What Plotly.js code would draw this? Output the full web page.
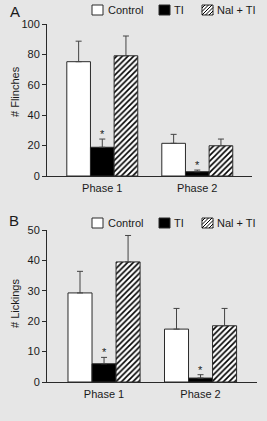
<!DOCTYPE html>
<html>
<head>
<meta charset="utf-8">
<script src="https://cdn.plot.ly/plotly-3.0.1.min.js"></script>
<style>html,body{margin:0;padding:0;background:#e6e6e6;}#chart{width:267px;height:421px;}</style>
</head>
<body>
<div id="chart"></div>
<script>
// ---- data ----
const phases = ['Phase 1', 'Phase 2'];
const seriesNames = ['Control', 'TI', 'Nal + TI'];

// Panel A: # Flinches
const flinchControl = [75.2, 21.5];
const flinchControlErr = [13.5, 5.9];
const flinchTI = [18.9, 2.8];
const flinchTIErr = [5.4, 1.1];
const flinchNal = [79.1, 19.9];
const flinchNalErr = [13.0, 4.4];

// Panel B: # Lickings
const lickControl = [29.3, 17.4];
const lickControlErr = [7.1, 6.8];
const lickTI = [6.0, 1.3];
const lickTIErr = [2.1, 1.1];
const lickNal = [39.5, 18.5];
const lickNalErr = [8.7, 5.7];

const yTitleA = '# Flinches';
const yTitleB = '# Lickings';
const panelLabels = ['A', 'B'];
const sigMark = '*';

// ---- layout geometry ----
const W = 267, H = 421, L = 47, R = 10, T = 24, B = 39;
const PW = W - L - R, PH = H - T - B;
const fx = px => (px - L) / PW;
const fy = py => (T + PH - py) / PH;
const FONT = 'Liberation Sans, Arial, Helvetica, sans-serif';
const TXT = '#1a1a1a';
const LINE = '#2a2a2a';

function errSpec(arr) {
  return {type: 'data', symmetric: false, array: arr, arrayminus: arr.map(() => 0),
          color: '#444', thickness: 1, width: 3};
}
const styles = [
  {color: '#ffffff', line: {color: LINE, width: 1}},
  {color: '#000000', line: {color: LINE, width: 1}},
  {color: '#ffffff', line: {color: LINE, width: 1},
   pattern: {shape: '/', size: 4, solidity: 0.4, fgcolor: '#000000', bgcolor: '#ffffff'}}
];

function mk(vals, errs, i, xa, ya) {
  return {type: 'bar', x: phases, y: vals, name: seriesNames[i], marker: styles[i],
          error_y: errSpec(errs), xaxis: xa, yaxis: ya, showlegend: false,
          hoverinfo: 'skip'};
}

const data = [
  mk(flinchControl, flinchControlErr, 0, 'x', 'y'),
  mk(flinchTI, flinchTIErr, 1, 'x', 'y'),
  mk(flinchNal, flinchNalErr, 2, 'x', 'y'),
  mk(lickControl, lickControlErr, 0, 'x2', 'y2'),
  mk(lickTI, lickTIErr, 1, 'x2', 'y2'),
  mk(lickNal, lickNalErr, 2, 'x2', 'y2')
];

const annotations = [];
const shapes = [];

// significance asterisks above TI bars
phases.forEach((p, k) => {
  annotations.push({xref: 'x', yref: 'y', x: p, y: flinchTI[k] + flinchTIErr[k], text: sigMark,
    showarrow: false, yanchor: 'bottom', font: {family: FONT, size: 11, color: TXT}, yshift: -3});
  annotations.push({xref: 'x2', yref: 'y2', x: p, y: lickTI[k] + lickTIErr[k], text: sigMark,
    showarrow: false, yanchor: 'bottom', font: {family: FONT, size: 11, color: TXT}, yshift: -3});
});

// panel letters
annotations.push({xref: 'paper', yref: 'paper', x: fx(8), y: fy(12), text: panelLabels[0], showarrow: false,
  xanchor: 'left', yanchor: 'middle', font: {family: FONT, size: 15, color: TXT}});
annotations.push({xref: 'paper', yref: 'paper', x: fx(7), y: fy(220), text: panelLabels[1], showarrow: false,
  xanchor: 'left', yanchor: 'middle', font: {family: FONT, size: 15, color: TXT}});

// y-axis titles
annotations.push({xref: 'paper', yref: 'paper', x: fx(15), y: fy(92), text: yTitleA, showarrow: false,
  textangle: -90, xanchor: 'center', yanchor: 'middle', font: {family: FONT, size: 11, color: TXT}});
annotations.push({xref: 'paper', yref: 'paper', x: fx(15), y: fy(304), text: yTitleB, showarrow: false,
  textangle: -90, xanchor: 'center', yanchor: 'middle', font: {family: FONT, size: 11, color: TXT}});

// manual legends
function legend(yc) {
  const boxes = [[92, 103], [159, 170], [202, 213]];
  const textX = [106, 172, 215];
  const y0 = yc - 5, y1 = yc + 5;
  boxes.forEach((b, i) => {
    shapes.push({type: 'rect', xref: 'paper', yref: 'paper', x0: fx(b[0]), x1: fx(b[1]), y0: fy(y1), y1: fy(y0),
      fillcolor: i === 1 ? '#000' : '#fff', line: {color: LINE, width: 1}});
    if (i === 2) {
      const w = b[1] - b[0], h = y1 - y0;
      let path = '';
      for (let c = 3; c < w + h; c += 3.5) {
        const ax = b[0] + Math.max(0, c - h), ay = y0 + Math.min(c, h);
        const bx = b[0] + Math.min(c, w), by = y0 + Math.max(0, c - w);
        path += 'M' + fx(ax) + ',' + fy(ay) + 'L' + fx(bx) + ',' + fy(by);
      }
      shapes.push({type: 'path', xref: 'paper', yref: 'paper', path: path, line: {color: '#000', width: 1}});
    }
    annotations.push({xref: 'paper', yref: 'paper', x: fx(textX[i]), y: fy(yc), text: seriesNames[i],
      showarrow: false, xanchor: 'left', yanchor: 'middle', font: {family: FONT, size: 11, color: TXT}});
  });
}
legend(10);
legend(223);

const axCommon = {showline: true, linecolor: LINE, linewidth: 1, showgrid: false, zeroline: false,
  tickfont: {family: FONT, size: 11, color: TXT}, fixedrange: true};

const layout = {
  width: W, height: H,
  margin: {l: L, r: R, t: T, b: B},
  paper_bgcolor: '#e6e6e6', plot_bgcolor: '#e6e6e6',
  barmode: 'group', bargap: 0.253, bargroupgap: 0,
  showlegend: false,
  font: {family: FONT, size: 11, color: TXT},
  xaxis: Object.assign({}, axCommon, {domain: [0, 205 / 210], anchor: 'y', range: [-0.582, 1.576], ticks: '',
    ticklabelstandoff: 2}),
  yaxis: Object.assign({}, axCommon, {domain: [(382 - 176) / 358, 1], anchor: 'x', range: [0, 100], dtick: 20,
    ticks: 'outside', ticklen: 4, tickcolor: LINE}),
  xaxis2: Object.assign({}, axCommon, {domain: [0, 1], anchor: 'y2', range: [-0.591, 1.585], ticks: '',
    ticklabelstandoff: 2}),
  yaxis2: Object.assign({}, axCommon, {domain: [0, 152 / 358], anchor: 'x2', range: [0, 50], dtick: 10,
    ticks: 'outside', ticklen: 4, tickcolor: LINE}),
  annotations: annotations,
  shapes: shapes
};

Plotly.newPlot('chart', data, layout, {displayModeBar: false, staticPlot: true});
</script>
</body>
</html>
